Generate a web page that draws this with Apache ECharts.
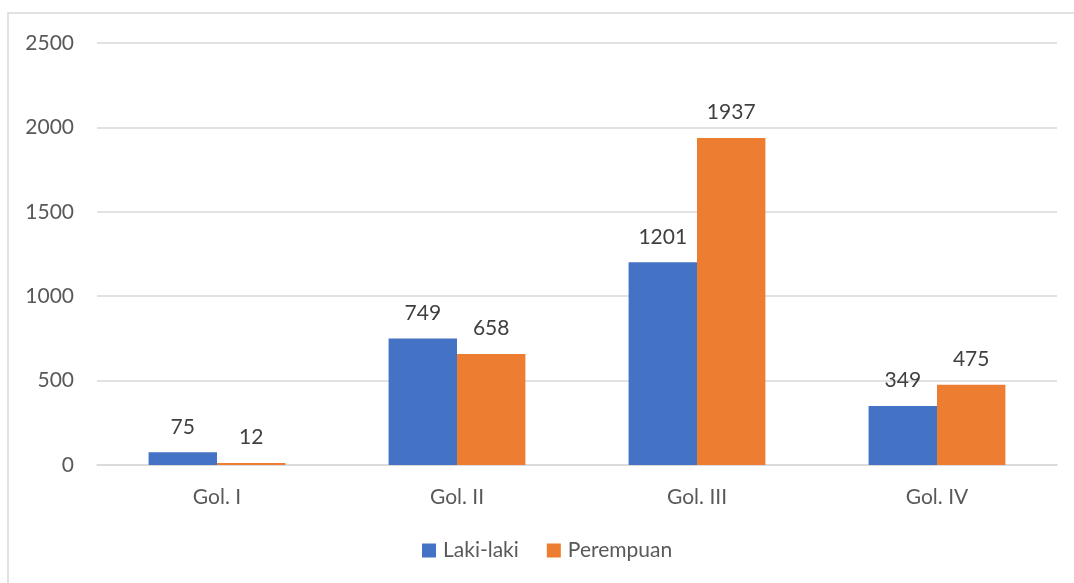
<!DOCTYPE html>
<html>
<head>
<meta charset="utf-8">
<script src="https://cdn.jsdelivr.net/npm/echarts@6/dist/echarts.min.js"></script>
<style>
  html,body{margin:0;padding:0;background:#fff;}
  #chart{width:1074px;height:583px;}
</style>
</head>
<body>
<div id="chart"></div>
<script>
// data
const categories = ['Gol. I', 'Gol. II', 'Gol. III', 'Gol. IV'];
const lakiLaki = [75, 749, 1201, 349];
const perempuan = [12, 658, 1937, 475];

const myChart = echarts.init(document.getElementById('chart'));
const font = 'Lato, "Open Sans", sans-serif';

let option = {
    backgroundColor: '#fff',
    animation: false,
    textStyle: { fontFamily: font },
    graphic: [
        {
            type: 'rect',
            shape: { x: 8, y: 13, width: 1080, height: 580 },
            style: { fill: 'none', stroke: '#d9d9d9', lineWidth: 1.5 },
            silent: true
        }
    ],
    grid: {
        left: 97,
        right: 17,
        top: 43,
        bottom: 118
    },
    legend: {
        bottom: 17,
        left: 417,
        itemWidth: 14,
        itemHeight: 14,
        itemGap: 28,
        icon: 'rect',
        textStyle: { color: '#595959', fontSize: 21, fontFamily: font, padding: [0, 0, 0, 2] },
        data: ['Laki-laki', 'Perempuan']
    },
    xAxis: {
        type: 'category',
        data: categories,
        axisLine: { lineStyle: { color: '#d9d9d9', width: 1.5 } },
        axisTick: { show: false },
        axisLabel: { color: '#595959', fontSize: 21, margin: 22, fontFamily: font }
    },
    yAxis: {
        type: 'value',
        min: 0,
        max: 2500,
        interval: 500,
        axisLine: { show: false },
        axisTick: { show: false },
        axisLabel: {
            color: '#595959', fontSize: 21, margin: 23, fontFamily: font,
            formatter: (v) => String(v)
        },
        splitLine: { lineStyle: { color: '#d9d9d9', width: 1.5 } }
    },
    series: [
        {
            name: 'Laki-laki',
            type: 'bar',
            data: lakiLaki,
            barGap: '0%',
            barCategoryGap: '43%',
            itemStyle: { color: '#4472C4' },
            label: { show: true, position: 'top', distance: 15, color: '#404040', fontSize: 21, fontFamily: font }
        },
        {
            name: 'Perempuan',
            type: 'bar',
            data: perempuan,
            barGap: '0%',
            barCategoryGap: '43%',
            itemStyle: { color: '#ED7D31' },
            label: { show: true, position: 'top', distance: 15, color: '#404040', fontSize: 21, fontFamily: font }
        }
    ]
};
myChart.setOption(option);
</script>
</body>
</html>
